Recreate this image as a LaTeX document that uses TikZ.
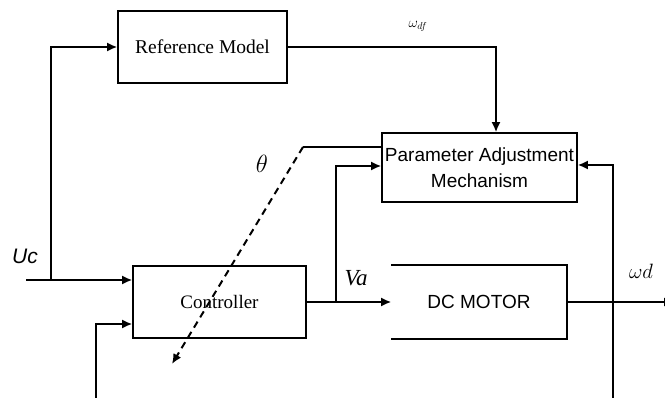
\documentclass[tikz,border=0pt]{standalone}
\usepackage{fontspec}
\setmainfont{Liberation Serif}
\newfontfamily\arial{Liberation Sans}
\usetikzlibrary{arrows.meta,calc}
\begin{document}
\begin{tikzpicture}[x=1pt,y=-1pt,
  line width=1.7pt,
  blk/.style={draw,line width=1.7pt,inner sep=0pt,align=center},
  arr/.style={-{Latex[length=10pt,width=9pt]}},
  lbl/.style={inner sep=0pt}]
\useasboundingbox (0,0) rectangle (665,398);
% blocks
\node[blk,minimum width=169pt,minimum height=72pt,font=\fontsize{19.5}{22}\selectfont] (ref) at (202.5,47) {Reference Model};
\node[blk,minimum width=173pt,minimum height=72pt,font=\fontsize{19}{22}\selectfont] (ctrl) at (219.5,302) {Controller};
\node[blk,minimum width=195pt,minimum height=69pt,font=\arial\fontsize{19}{26}\selectfont] (pam) at (479.5,167.5) {Parameter Adjustment\\Mechanism};
\node[inner sep=0pt,minimum width=174pt,minimum height=72pt,font=\arial\fontsize{19}{22}\selectfont] (dc) at (479,302) {DC MOTOR};
\draw[line width=1.7pt] (dc.north west) -- (dc.north east) -- (dc.south east) -- (dc.south west);
% coordinates
\coordinate (ucin) at (26,280);
\coordinate (ucj) at (51,280);
\coordinate (fbl) at (96,400);
\coordinate (fbly) at (0,324);
\coordinate (vaj) at (336,302);
\coordinate (vay) at (0,166);
\coordinate (out) at (674,302);
\coordinate (fbr) at (613,400);
\coordinate (fbry) at (0,165);
\coordinate (th) at (303,147);
\coordinate (thend) at (172,364);
\coordinate (wdf) at (496,47);
% connectors
\draw[arr] (ref.east) -- (wdf) -- (wdf |- pam.north);
\draw[arr] (ucin) -- (ucin -| ctrl.west);
\draw[arr] (ucj) |- (ref.west);
\draw[arr] (fbl) |- (fbly -| ctrl.west);
\draw[arr] (ctrl.east |- vaj) -- (vaj -| dc.west);
\draw[arr] (vaj) |- (vay -| pam.west);
\draw[arr] (dc.east |- vaj) -- (out);
\draw[arr] (fbr) |- (fbry -| pam.east);
\draw (th -| pam.west) -- (th);
\draw[arr,dash pattern=on 7pt off 5pt,line width=2pt] (th) -- (thend);
% labels
\node[lbl,font=\fontsize{14}{16}\selectfont] (lwdf) at (418,26) {$\omega_{df}$};
\node[lbl,font=\arial\itshape\fontsize{21}{22}\selectfont] (luc) at (25,256) {Uc};
\node[lbl,font=\itshape\fontsize{23}{24}\selectfont] (lva) at (356,278) {Va};
\node[lbl,font=\itshape\fontsize{20}{22}\selectfont] (lwd) at (641,271) {$\omega d$};
\node[lbl,font=\fontsize{26}{28}\selectfont] (lth) at (262,164) {$\theta$};
\end{tikzpicture}
\end{document}
